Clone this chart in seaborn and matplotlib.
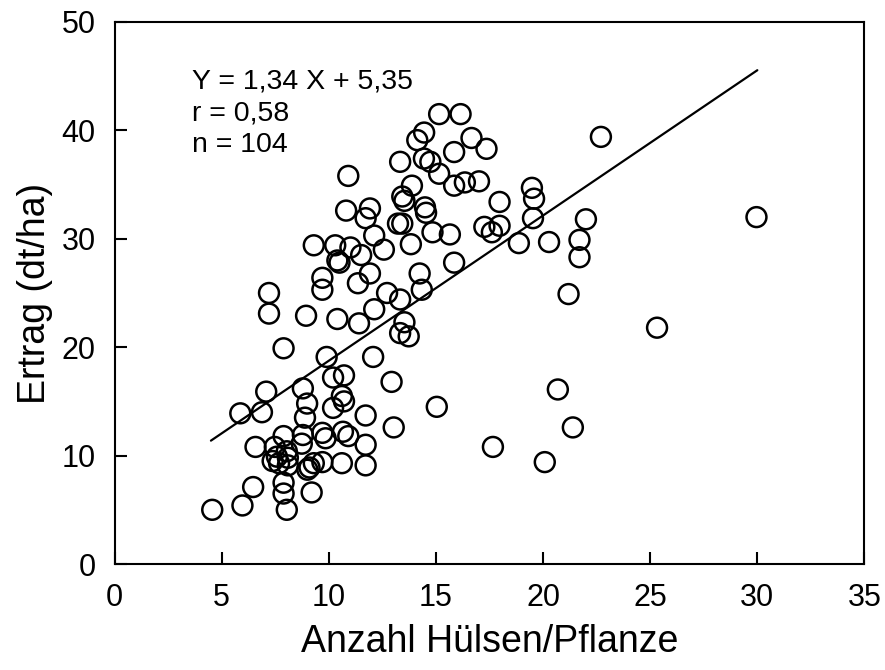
import matplotlib
matplotlib.use("Agg")
import matplotlib.pyplot as plt
import seaborn as sns
import numpy as np
import pandas as pd

# Data
huelsen = [
    15.15, 16.15, 14.45, 14.13, 16.66, 17.36, 15.85, 13.33, 14.44, 14.74,
    15.15, 10.91, 13.88, 15.85, 16.35, 17.01, 13.43, 13.53, 17.97, 14.49,
    14.54, 10.81, 11.92, 11.72, 13.23, 13.43, 14.84, 15.65, 17.26, 17.61,
    17.97, 12.12, 12.57, 13.83, 9.30, 10.30, 11.01, 11.51, 10.40, 10.50,
    11.92, 11.36, 9.70, 9.70, 15.85, 14.24, 14.34, 12.72, 13.33, 19.48,
    19.58, 22.00, 19.53, 18.87, 20.28, 21.70, 21.70, 21.19, 22.70, 29.96,
    25.32,
    7.21, 7.21, 8.94, 10.40, 11.41, 12.12, 13.53, 13.33, 13.73, 12.07,
    9.90, 7.89, 12.93, 10.20, 10.71, 8.79, 10.61, 10.71, 10.20, 8.99,
    8.89, 11.72, 13.03, 15.04, 20.69, 21.39, 17.66, 20.08, 7.08, 5.87,
    6.88,
    6.58, 7.89, 7.48, 7.58, 7.38, 8.04, 8.09, 8.09, 7.68, 8.74,
    8.79, 9.10, 9.30, 9.00, 9.70, 10.61, 11.72, 11.72, 9.70, 9.85,
    10.66, 10.91, 7.89, 7.89, 8.04, 9.20, 6.47, 5.97, 4.56,
]
ertrag = [
    41.5, 41.5, 39.8, 39.1, 39.3, 38.3, 38.0, 37.1, 37.4, 37.1,
    36.0, 35.8, 34.9, 34.9, 35.2, 35.3, 33.9, 33.5, 33.4, 32.9,
    32.4, 32.6, 32.8, 31.9, 31.4, 31.4, 30.6, 30.4, 31.1, 30.6,
    31.2, 30.3, 29.0, 29.5, 29.4, 29.4, 29.2, 28.5, 28.0, 27.8,
    26.8, 25.9, 26.4, 25.3, 27.8, 26.8, 25.3, 25.0, 24.4, 34.7,
    33.7, 31.8, 31.9, 29.6, 29.7, 29.9, 28.3, 24.9, 39.4, 32.0,
    21.8,
    25.0, 23.1, 22.9, 22.6, 22.2, 23.5, 22.3, 21.3, 21.0, 19.1,
    19.1, 19.9, 16.8, 17.2, 17.4, 16.2, 15.5, 15.0, 14.4, 14.8,
    13.5, 13.7, 12.6, 14.5, 16.1, 12.6, 10.8, 9.4, 15.9, 13.9,
    14.0,
    10.8, 11.8, 10.8, 9.9, 9.5, 10.4, 9.8, 9.1, 9.3, 11.1,
    11.9, 8.9, 9.3, 8.7, 9.4, 9.3, 9.1, 11.0, 12.1, 11.6,
    12.2, 11.8, 7.5, 6.5, 5.0, 6.6, 7.1, 5.4, 5.0,
]

slope = 1.34
intercept = 5.35
line_range = [4.5, 30.0]

x_ticks = [0, 5, 10, 15, 20, 25, 30, 35]
y_ticks = [0, 10, 20, 30, 40, 50]
ann_lines = ["Y = 1,34 X + 5,35", "r = 0,58", "n = 104"]

df = pd.DataFrame({"Hülsen": huelsen, "Ertrag": ertrag})
line_x = np.array(line_range)
line_df = pd.DataFrame({"x": line_x, "y": slope * line_x + intercept})

sns.set_style("ticks")
plt.rcParams["font.family"] = ["Liberation Sans", "DejaVu Sans"]
plt.rcParams["text.color"] = "black"
plt.rcParams["axes.labelcolor"] = "black"

fig = plt.figure(figsize=(8.85, 6.7), dpi=100)
ax = fig.add_axes([0.1294, 0.1582, 0.9768 - 0.1294, 0.9672 - 0.1582])

sns.lineplot(data=line_df, x="x", y="y", color="black", linewidth=1.6, ax=ax)
sns.scatterplot(data=df, x="Hülsen", y="Ertrag", s=205, marker="o",
                facecolor="none", edgecolor="black", linewidth=1.8, ax=ax,
                zorder=3)

ax.set_xlim(0, 35)
ax.set_ylim(0, 50)
ax.set_xticks(x_ticks)
ax.set_yticks(y_ticks)
ax.set_xticklabels([str(t) for t in x_ticks])
ax.set_yticklabels([str(t) for t in y_ticks])

for s in ax.spines.values():
    s.set_linewidth(1.5)
    s.set_color("black")
    s.set_visible(True)

ax.tick_params(axis="both", direction="in", length=8.5, width=1.5,
               labelsize=22, colors="black")
ax.tick_params(axis="x", pad=14)
ax.tick_params(axis="y", pad=13.5)

ax.set_xlabel("Anzahl Hülsen/Pflanze", fontsize=27, labelpad=7.5, color="black")
ax.set_ylabel("Ertrag (dt/ha)", fontsize=27, labelpad=6.5, color="black")

ann_y = [43.87, 40.95, 38.04]
for txt, yy in zip(ann_lines, ann_y):
    ax.text(3.6, yy, txt, fontsize=20.5, ha="left", va="baseline", color="black")

fig.savefig("out.png", dpi=100)
